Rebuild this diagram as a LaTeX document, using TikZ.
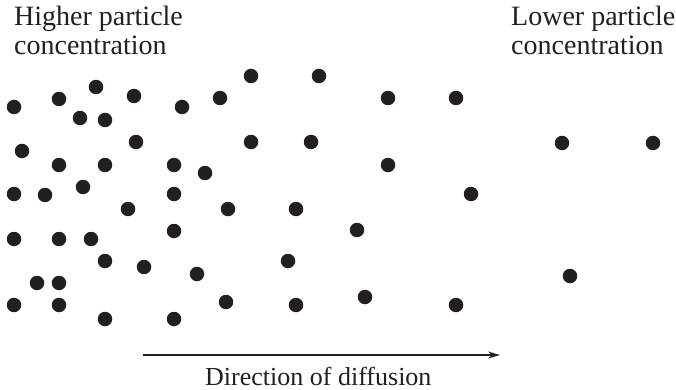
\documentclass[tikz,border=0pt]{standalone}
\usepackage{fontspec}
\setmainfont{Liberation Serif}
\usetikzlibrary{arrows.meta}
\definecolor{ink}{HTML}{231F20}
\begin{document}
\begin{tikzpicture}[x=1pt,y=-1pt,
  particle/.style={circle,fill=ink,inner sep=0pt,minimum size=14.5pt},
  lbl/.style={anchor=base west,inner sep=0pt,font=\fontsize{28}{30}\selectfont,text=ink,align=left},
  captext/.style={lbl,font=\fontsize{26}{28}\selectfont}]
\useasboundingbox (0,0) rectangle (676,390);
\foreach \x/\y [count=\i] in {
14/107,59/99,96/87,134/96,182/107,220/98,80/118,105/120,136/142,22/151,
59/165,105/165,174/165,205/173,14/194,45/195,83/187,174/194,128/209,228/209,
14/239,59/239,91/239,174/231,105/261,144/267,197/274,37/283,59/283,14/305,
59/305,226/302,105/319,174/319,
251/76,319/76,388/98,456/98,251/142,311/142,388/165,471/194,296/209,357/230,
288/261,365/297,296/305,456/305,
562/143,653/143,570/276}
  \node[particle] (p\i) at (\x,\y) {};
\node[lbl] (hi1) at (14,26) {Higher particle};
\node[lbl] (hi2) at (14,55) {concentration};
\node[lbl] (lo1) at (511,26) {Lower particle};
\node[lbl] (lo2) at (511,55) {concentration};
\coordinate (a1) at (143,355);
\coordinate (a2) at (500,355);
\draw[ink,line width=1.1pt,-{Stealth[length=12pt,width=7pt]}] (a1) -- (a2);
\node[captext] (dir) at (205,385) {Direction of diffusion};
\end{tikzpicture}
\end{document}
